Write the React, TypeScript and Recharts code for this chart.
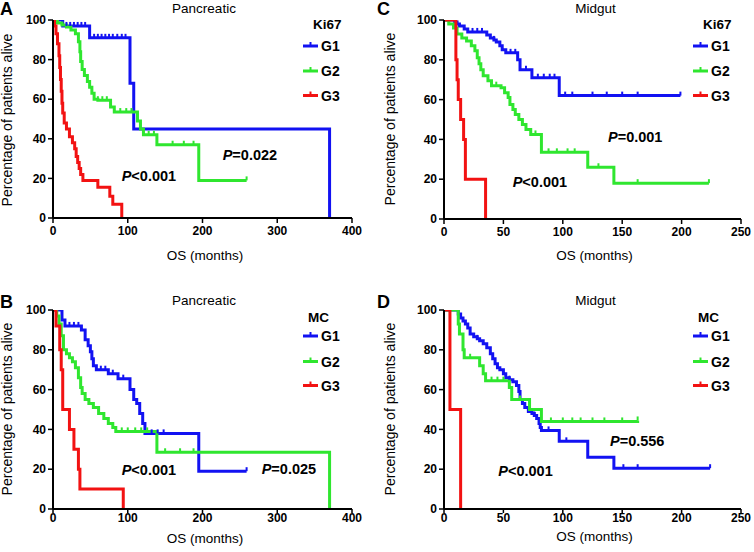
import React from 'react';
import { LineChart, Line, XAxis, YAxis } from 'recharts';

type Pt = number[]; // [months, % alive, censored?]

// ---------- tick labels ----------
const yTicks = [0, 20, 40, 60, 80, 100];
const xTicksPanc = [0, 100, 200, 300, 400];
const xTicksMid = [0, 50, 100, 150, 200, 250];
const groups = ['G1', 'G2', 'G3'];

// ---------- A: Pancreatic, Ki67 ----------
const pancKi67G1: Pt[] = [[0,100],[10,100,1],[13,97],[18,97,1],[23,97,1],[28,97,1],[33,97,1],[38,97,1],[43,97,1],[49,91],[55,91,1],[60,91,1],[65,91,1],[70,91,1],[75,91,1],[80,91,1],[86,91,1],[92,91,1],[97,91,1],[103,68],[108,45],[370,0]];
const pancKi67G2: Pt[] = [[0,100],[6,98.5],[12,97.5],[18,96.5],[24,95],[30,93],[34,89],[36,84],[37,79],[39,75],[42,72],[46,69],[49,66],[52,63],[55,60],[60,59.5,1],[66,59.5,1],[72,59.5,1],[77,56],[82,53.5],[90,53.5,1],[98,53.5,1],[105,53.5,1],[113,49],[117,45],[121,42],[128,42,1],[135,42,1],[139,37],[160,37,1],[175,37,1],[188,37,1],[195,19],[259,19,1]];
const pancKi67G3: Pt[] = [[0,100],[2,97],[4,93],[6,88],[8,82],[9,76],[10,70],[11,64],[12,58],[13,53],[15,48],[18,45],[22,41],[26,38],[29,35],[31,31],[33,28],[35,25],[37,22],[40,19],[60,15.5],[76,11],[80,7],[92,0]];

// ---------- B: Pancreatic, MC ----------
const pancMcG1: Pt[] = [[0,100],[10,100,1],[12,95],[16,92],[22,92,1],[28,92,1],[34,92,1],[38,90],[43,85],[47,82],[50,79],[52,75.5],[54,72],[58,70],[64,70,1],[70,70,1],[74,68],[80,68,1],[87,65.5],[94,65.5,1],[103,60],[108,55],[112,53],[116,48],[120,43],[123,38],[132,38,1],[140,38,1],[148,38,1],[195,19],[259,19,1]];
const pancMcG2: Pt[] = [[0,100],[5,97],[8,93],[11,87],[14,80],[18,78],[22,76],[26,74],[30,71],[34,66],[37,61],[39,58],[43,55],[48,53],[54,51],[61,48],[68,45.5],[74,43],[80,41],[84,39],[92,39,1],[100,39,1],[110,39,1],[118,39,1],[126,39,1],[139,28.5],[150,28.5,1],[170,28.5,1],[188,28.5,1],[370,0]];
const pancMcG3: Pt[] = [[0,100],[4,92],[9,80],[11,70],[13,50],[22,40],[28,30],[34,20],[36,10],[94,0]];

// ---------- C: Midgut, Ki67 ----------
const midKi67G1: Pt[] = [[0,100],[9,99],[11,98],[13,97],[17,95.5],[20,94],[24,94,1],[28,94,1],[32,94,1],[36,92.5],[39,91],[42,90,1],[44,89],[47,87],[49,85],[52,83.5],[56,83.5,1],[60,83.5,1],[62,80],[64,75],[69,75,1],[74,71],[79,71,1],[84,71,1],[89,71,1],[93,71,1],[97,62],[102,62,1],[108,62,1],[125,62,1],[137,62,1],[150,62,1],[163,62,1],[199,62,1]];
const midKi67G2: Pt[] = [[0,100],[4,98],[8,96],[11,93],[15,91],[19,89.5],[23,87],[26,84.5],[28,81],[29.5,78],[31,75],[33,72],[37,69.5],[40,67],[44,67,1],[48,66],[51,63.5],[54,61],[55.5,57.5],[58,55],[60,52.5],[63,50],[66,47.5],[69,45],[73,42.5],[77,42.5,1],[82,33.5],[88,33.5,1],[95,33.5,1],[104,33.5,1],[110,33.5,1],[121,26],[130,26,1],[143,18],[163,18,1],[223,18,1]];
const midKi67G3: Pt[] = [[0,100],[10,80],[11,70],[12,60],[14,50],[16.5,40],[18,20],[35,0]];

// ---------- D: Midgut, MC ----------
const midMcG1: Pt[] = [[0,100],[9,100,1],[12,98],[14,96],[16,94.5],[18,93],[20,91],[22,88],[25,86.5],[28,85.5,1],[30,84.5],[33,83],[36,81],[39,78],[41,75.5],[43,73],[45,71],[47,70],[50,68],[52,66],[55,65,1],[58,64],[61,62],[63,59],[64,55],[66,53],[68,51],[71,49],[74,48],[76,47,1],[78,45.5],[80,43],[81,41],[82,39.5],[88,39.5,1],[97,34],[103,34,1],[121,26],[143,20.5],[151,20.5,1],[163,20.5,1],[224,20.5,1]];
const midMcG2: Pt[] = [[0,100],[10,100,1],[12,93],[13,88],[16,80],[17,76],[22,76,1],[30,72],[33,68],[35,64.5],[40,64.5,1],[45,64.5,1],[50,64.5,1],[55,61],[57,55],[64,55,1],[72,50],[82,44],[90,44,1],[100,44,1],[108,44,1],[115,44,1],[125,44,1],[135,44,1],[150,44,1],[163,44.5,1]];
const midMcG3: Pt[] = [[0,100],[5,50],[14,0]];

// ---------- styling ----------
const FONT = '"Liberation Sans", Arial, Helvetica, sans-serif';
const COLORS = ['#1212f2', '#2fe62f', '#f21212'];

const toRows = (pts: Pt[]) => pts.map((p) => ({ t: p[0], s: p[1], c: p[2] ? 1 : 0 }));

const makeDot = (color: string) => (props: any) => {
  const { cx, cy, payload, index } = props;
  if (!payload || !payload.c || cx == null || cy == null) return <g key={`n${index}`} />;
  return <line key={`c${index}`} x1={cx} x2={cx} y1={cy} y2={cy - 4} stroke={color} strokeWidth={2} />;
};

type PanelProps = {
  left: number; top: number; series: Pt[][]; xMax: number; xTicks: number[];
  margin: { top: number; right: number; bottom: number; left: number };
  yWidth: number; xTickSize: number; xTickMargin: number;
};

function Panel(p: PanelProps) {
  const tickStyle = { fill: '#000', fontSize: 12, fontWeight: 'bold', fontFamily: FONT } as any;
  return (
    <div style={{ position: 'absolute', left: p.left, top: p.top }}>
      <LineChart width={377} height={276} margin={p.margin}>
        <XAxis type="number" dataKey="t" domain={[0, p.xMax]} ticks={p.xTicks} interval={0}
          allowDataOverflow height={30}
          axisLine={{ stroke: '#000', strokeWidth: 2 }} tickLine={{ stroke: '#000', strokeWidth: 1.5 }}
          tickSize={p.xTickSize} tickMargin={p.xTickMargin} tick={tickStyle} />
        <YAxis type="number" domain={[0, 100]} ticks={yTicks} interval={0} width={p.yWidth}
          allowDataOverflow
          axisLine={{ stroke: '#000', strokeWidth: 2 }} tickLine={{ stroke: '#000', strokeWidth: 1.5 }}
          tickSize={5} tickMargin={2} tick={tickStyle} />
        {p.series.map((s, i) => (
          <Line key={groups[i]} name={groups[i]} data={toRows(s)} dataKey="s" type="stepAfter"
            stroke={COLORS[i]} strokeWidth={3} dot={makeDot(COLORS[i])} activeDot={false}
            isAnimationActive={false} legendType="none" />
        ))}
      </LineChart>
    </div>
  );
}

function PText({ x, y, rel, val }: { x: number; y: number; rel: string; val: string }) {
  return (
    <text x={x} y={y} fontSize={14.5} fontWeight="bold" dominantBaseline="central">
      <tspan fontStyle="italic">P</tspan>{rel}{val}
    </text>
  );
}

function Legend({ title, titleX, titleY, rowsY, lineX }: { title: string; titleX: number; titleY: number; rowsY: number[]; lineX: number }) {
  return (
    <g>
      <text x={titleX} y={titleY} fontSize={13.5} fontWeight="bold" dominantBaseline="central">{title}</text>
      {groups.map((g, i) => (
        <g key={g}>
          <line x1={lineX} x2={lineX + 15} y1={rowsY[i]} y2={rowsY[i]} stroke={COLORS[i]} strokeWidth={3} />
          <line x1={lineX + 7.5} x2={lineX + 7.5} y1={rowsY[i]} y2={rowsY[i] - 4} stroke={COLORS[i]} strokeWidth={2} />
          <text x={lineX + 18} y={rowsY[i]} fontSize={14} fontWeight="bold" dominantBaseline="central">{g}</text>
        </g>
      ))}
    </g>
  );
}

export default function App() {
  const yLabel = 'Percentage of patients alive';
  const xLabel = 'OS (months)';
  return (
    <div style={{ position: 'absolute', left: 0, top: 0, width: 754, height: 552, background: '#fff', fontFamily: FONT }}>
      <Panel left={0} top={0} series={[pancKi67G1, pancKi67G2, pancKi67G3]} xMax={400} xTicks={xTicksPanc}
        margin={{ top: 20, right: 25, bottom: 28, left: 0 }} yWidth={53} xTickSize={5} xTickMargin={3} />
      <Panel left={377} top={0} series={[midKi67G1, midKi67G2, midKi67G3]} xMax={250} xTicks={xTicksMid}
        margin={{ top: 20, right: 13, bottom: 27, left: 0 }} yWidth={67} xTickSize={5} xTickMargin={3} />
      <Panel left={0} top={276} series={[pancMcG1, pancMcG2, pancMcG3]} xMax={400} xTicks={xTicksPanc}
        margin={{ top: 34, right: 25, bottom: 13, left: 0 }} yWidth={53} xTickSize={4} xTickMargin={0} />
      <Panel left={377} top={276} series={[midMcG1, midMcG2, midMcG3]} xMax={250} xTicks={xTicksMid}
        margin={{ top: 34, right: 13, bottom: 13, left: 0 }} yWidth={67} xTickSize={4} xTickMargin={0} />

      <svg width={754} height={552} style={{ position: 'absolute', left: 0, top: 0, pointerEvents: 'none' }}
        fontFamily={FONT} fill="#000">
        {/* panel letters */}
        <text x={0} y={9} fontSize={18} fontWeight="bold" dominantBaseline="central">A</text>
        <text x={377} y={9} fontSize={18} fontWeight="bold" dominantBaseline="central">C</text>
        <text x={0} y={301.5} fontSize={18} fontWeight="bold" dominantBaseline="central">B</text>
        <text x={377} y={301.5} fontSize={18} fontWeight="bold" dominantBaseline="central">D</text>

        {/* titles */}
        <text x={204} y={8} fontSize={13.5} textAnchor="middle" dominantBaseline="central">Pancreatic</text>
        <text x={595.5} y={8} fontSize={13.5} textAnchor="middle" dominantBaseline="central">Midgut</text>
        <text x={204} y={300} fontSize={13.5} textAnchor="middle" dominantBaseline="central">Pancreatic</text>
        <text x={595.5} y={300} fontSize={13.5} textAnchor="middle" dominantBaseline="central">Midgut</text>

        {/* axis labels */}
        <text transform="translate(7,120) rotate(-90)" fontSize={14} textAnchor="middle" dominantBaseline="central">{yLabel}</text>
        <text transform="translate(389.5,119) rotate(-90)" fontSize={14} textAnchor="middle" dominantBaseline="central">{yLabel}</text>
        <text transform="translate(7,409) rotate(-90)" fontSize={14} textAnchor="middle" dominantBaseline="central">{yLabel}</text>
        <text transform="translate(389.5,409) rotate(-90)" fontSize={14} textAnchor="middle" dominantBaseline="central">{yLabel}</text>
        <text x={205} y={255} fontSize={13.5} textAnchor="middle" dominantBaseline="central">{xLabel}</text>
        <text x={594.5} y={255} fontSize={13.5} textAnchor="middle" dominantBaseline="central">{xLabel}</text>
        <text x={205} y={538} fontSize={13.5} textAnchor="middle" dominantBaseline="central">{xLabel}</text>
        <text x={594.5} y={536} fontSize={13.5} textAnchor="middle" dominantBaseline="central">{xLabel}</text>

        {/* legends */}
        <Legend title="Ki67" titleX={313} titleY={24} rowsY={[46, 71, 95.5]} lineX={303} />
        <Legend title="Ki67" titleX={703} titleY={24} rowsY={[46, 71, 95.5]} lineX={693} />
        <Legend title="MC" titleX={308} titleY={317} rowsY={[336, 361.5, 385.5]} lineX={303} />
        <Legend title="MC" titleX={698} titleY={317} rowsY={[336, 361.5, 385.5]} lineX={693} />

        {/* p-values */}
        <PText x={222.7} y={155} rel="=" val="0.022" />
        <PText x={121.7} y={175.5} rel="<" val="0.001" />
        <PText x={608} y={136.5} rel="=" val="0.001" />
        <PText x={512.7} y={181.5} rel="<" val="0.001" />
        <PText x={121.7} y={470} rel="<" val="0.001" />
        <PText x={261.7} y={468.5} rel="=" val="0.025" />
        <PText x={610} y={441.3} rel="=" val="0.556" />
        <PText x={498.3} y={471.3} rel="<" val="0.001" />
      </svg>
    </div>
  );
}
